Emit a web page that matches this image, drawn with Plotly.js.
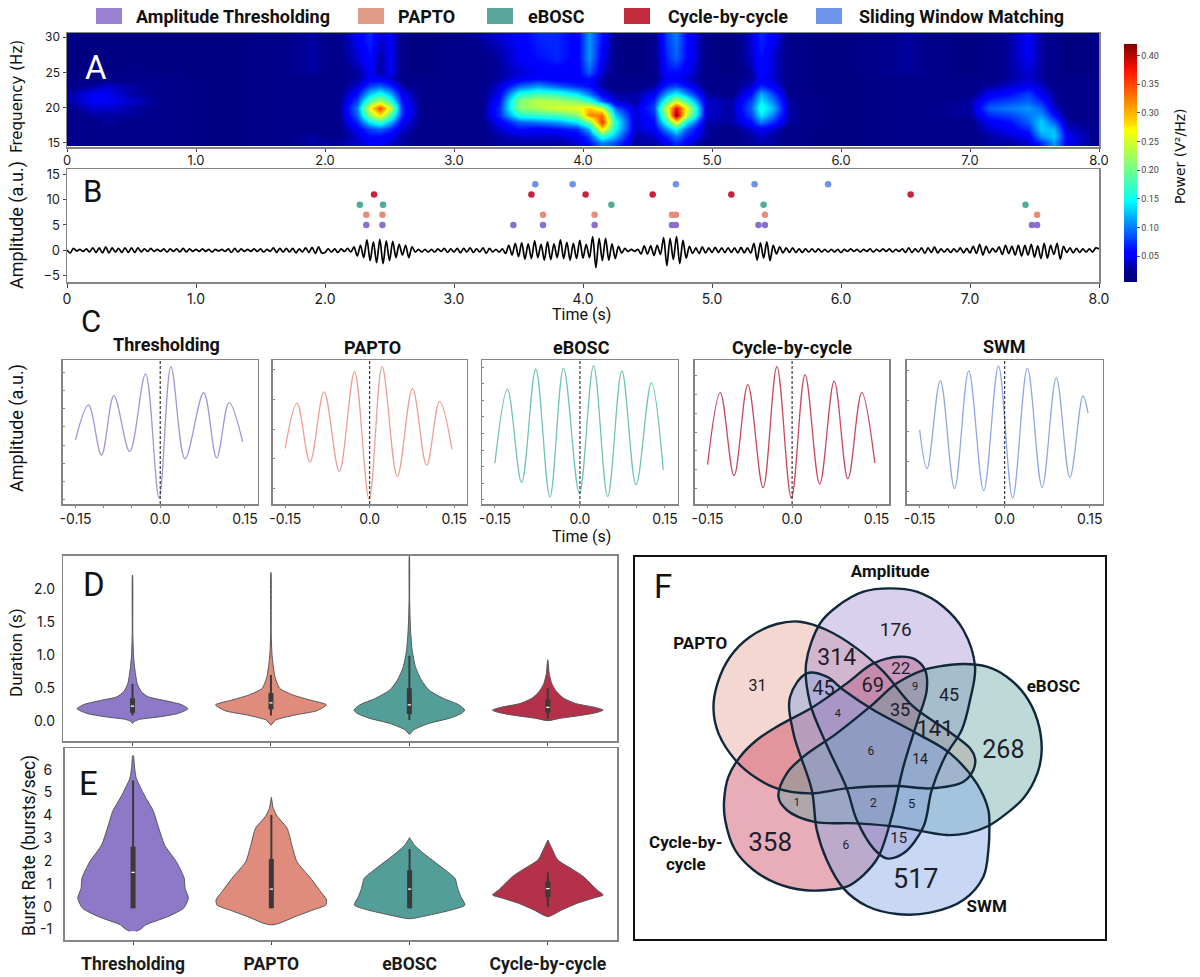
<!DOCTYPE html>
<html><head><meta charset="utf-8">
<script src="https://cdn.plot.ly/plotly-3.0.1.min.js"></script>
<style>html,body{margin:0;padding:0;background:#fff}#c{width:1200px;height:977px}</style>
</head><body><div id="c"></div>
<script>
/* ---------- data ---------- */
const methodNames = ['Amplitude Thresholding','PAPTO','eBOSC','Cycle-by-cycle','Sliding Window Matching'];
const legendColors = ['#9a82d0','#e09a88','#5aa69c','#c32c3e','#6f96e8'];
const dotColors = ['#8a6fd0','#e88b78','#4eab9f','#c8233c','#6d93e3'];
const waveColors = ['#a394d8','#ee9f93','#6fc4b6','#c9485f','#8ea9e4'];
const violinColors = ['#8e78c8','#e08c7c','#539e98','#b53149'];

/* A: spectrogram */
const specTimes = [0,.2,.3,.5,.8,1.2,1.6,1.9,2.1,2.25,2.35,2.43,2.5,2.6,2.75,3.0,3.2,3.35,3.5,3.65,3.8,3.95,4.05,4.15,4.25,4.4,4.55,4.65,4.72,4.8,4.95,5.15,5.3,5.38,5.47,5.6,6.0,6.5,7.0,7.15,7.3,7.45,7.55,7.65,7.75,8.0];
const specFreqs = [15,16,17,18,19,20,21,22,23,24,25,27,30];
const specPower = [
[.02,.02,.02,.02,.02,.01,.02,.03,.03,.04,.05,.05,.04,.03,.02,.02,.02,.03,.03,.03,.03,.04,.06,.10,.08,.03,.03,.05,.07,.05,.02,.02,.03,.03,.03,.02,.01,.02,.02,.03,.03,.04,.07,.11,.05,.02],
[.02,.02,.02,.02,.02,.01,.02,.03,.02,.04,.06,.06,.05,.03,.02,.02,.02,.03,.04,.04,.04,.05,.08,.17,.12,.03,.04,.07,.10,.07,.03,.02,.03,.04,.03,.02,.01,.02,.02,.03,.04,.05,.11,.13,.05,.02],
[.02,.02,.02,.02,.02,.01,.02,.02,.02,.05,.08,.09,.07,.04,.02,.02,.02,.04,.06,.05,.06,.07,.12,.28,.15,.04,.05,.11,.15,.09,.03,.02,.04,.05,.04,.02,.01,.02,.02,.04,.05,.07,.13,.12,.04,.02],
[.02,.02,.03,.02,.02,.01,.02,.02,.02,.07,.14,.17,.12,.05,.02,.02,.02,.05,.09,.10,.11,.14,.20,.36,.16,.04,.06,.17,.27,.15,.03,.03,.06,.10,.07,.03,.01,.02,.02,.05,.06,.09,.13,.09,.03,.02],
[.02,.03,.03,.03,.02,.01,.02,.02,.02,.09,.22,.28,.19,.07,.02,.02,.02,.07,.16,.17,.18,.21,.32,.33,.13,.04,.07,.23,.42,.25,.04,.03,.08,.14,.10,.03,.01,.02,.03,.07,.08,.10,.11,.06,.02,.02],
[.02,.04,.04,.03,.02,.01,.02,.02,.02,.10,.27,.35,.25,.07,.02,.02,.02,.07,.21,.23,.25,.26,.29,.24,.09,.04,.08,.26,.38,.27,.04,.03,.09,.16,.12,.03,.01,.02,.03,.09,.10,.11,.09,.04,.02,.02],
[.03,.05,.05,.04,.02,.01,.02,.02,.02,.08,.19,.23,.17,.06,.02,.02,.02,.06,.21,.24,.23,.21,.17,.09,.04,.03,.07,.18,.25,.18,.04,.03,.08,.14,.10,.03,.01,.02,.03,.07,.08,.09,.07,.03,.02,.02],
[.03,.05,.05,.03,.02,.01,.02,.02,.02,.06,.13,.16,.12,.05,.02,.02,.02,.05,.16,.18,.17,.14,.10,.05,.03,.03,.05,.12,.15,.11,.03,.02,.06,.12,.08,.02,.01,.02,.02,.05,.06,.08,.05,.03,.02,.02],
[.02,.03,.04,.03,.02,.01,.02,.02,.02,.04,.08,.09,.07,.03,.02,.02,.02,.04,.09,.11,.09,.07,.06,.03,.02,.02,.03,.07,.08,.06,.02,.02,.04,.07,.05,.02,.01,.02,.02,.03,.04,.05,.04,.02,.02,.02],
[.02,.02,.02,.02,.02,.01,.02,.02,.02,.03,.05,.05,.04,.02,.02,.02,.02,.03,.05,.06,.05,.05,.06,.03,.02,.02,.02,.05,.05,.04,.02,.02,.03,.05,.04,.02,.01,.02,.02,.02,.03,.04,.03,.02,.02,.02],
[.01,.01,.01,.02,.01,.01,.02,.03,.02,.03,.05,.03,.05,.02,.01,.02,.02,.03,.04,.05,.05,.05,.09,.04,.02,.01,.02,.06,.06,.05,.02,.01,.03,.06,.04,.02,.01,.03,.01,.02,.03,.04,.03,.02,.01,.01],
[.01,.01,.01,.01,.01,.01,.02,.03,.02,.04,.06,.03,.05,.02,.01,.02,.02,.03,.05,.06,.07,.05,.11,.05,.02,.01,.02,.07,.09,.06,.02,.01,.04,.06,.04,.02,.01,.03,.01,.02,.03,.05,.03,.02,.01,.01],
[.01,.01,.01,.01,.01,.01,.02,.03,.02,.05,.07,.04,.05,.02,.01,.02,.03,.04,.05,.07,.07,.05,.11,.06,.02,.01,.02,.08,.10,.06,.02,.01,.04,.07,.05,.02,.01,.03,.01,.02,.03,.05,.03,.02,.01,.01]];

/* B: raw signal, one value every 0.025 s */
const signalStep = 0.025;
const signalValues = [
.1,-.5,.4,-.1,.2,-.2,.3,-.3,.5,-.4,.5,-.5,.7,-.5,.5,-.3,.4,-.4,.5,-.4,.5,-.4,.5,-.3,.3,-.2,.4,-.2,.2,-.2,.3,-.3,.3,-.2,.3,-.3,.4,-.3,.3,-.2,
.2,-.2,.3,-.2,.2,-.3,.2,-.1,.2,-.2,.3,-.4,.4,-.3,.3,-.2,.2,-.2,.3,-.2,.3,-.3,.2,-.2,.5,-.4,.4,-.3,.4,-.3,.4,-.5,.3,-.3,.5,-.4,.6,-.6,.7,-.5,
-.4,.3,-.3,.3,-.4,.3,-.2,.4,-.3,.7,-1.1,1.0,-1.4,2.1,-2.0,1.7,-2.4,2.2,-2.6,1.9,-2.0,1.8,-1.4,1.2,-.9,1.0,-1.4,.7,-.3,.2,-.3,.2,-.3,.2,-.3,.3,-.2,.4,-.4,.3,
-.3,.4,-.5,.4,-.3,.5,-.4,.3,-.3,.5,-.6,.4,-.3,.2,-.3,.3,-.6,1.0,-.9,1.4,-1.2,1.5,-1.7,1.3,-1.6,1.9,-1.4,1.2,-1.9,1.7,-1.8,1.3,-1.4,2.1,-1.6,1.6,-1.9,1.4,-1.6,2.0,
-1.5,1.2,-1.4,2.7,-3.4,2.4,-2.0,2.4,-1.9,1.3,-1.6,.8,-.5,.4,-.2,.2,-.2,.2,-.7,.9,-.7,.9,-1.0,1.0,-.8,2.5,-3.0,2.4,-1.8,2.7,-2.6,2.0,-1.5,.8,-.6,.5,-.6,.7,-.5,.5,
-.4,.6,-.4,.5,-.4,.5,-.4,.5,-.5,.6,-.5,.5,-.5,1.4,-1.9,1.5,-1.5,1.7,-2.0,1.0,-.7,.7,-.5,.5,-.4,.5,-.4,.3,-.4,.3,-.3,.3,-.3,.3,-.3,.2,-.3,.2,-.3,.2,
-.4,.2,-.2,.3,-.2,.2,-.3,.2,-.2,.3,-.3,.2,-.2,.3,-.2,.3,-.3,.2,-.2,.3,-.4,.5,-.4,.3,-.3,.5,-.6,.5,-.4,.7,-.5,.3,-.3,.3,-.4,.3,-.3,.5,-.5,.4,
-.5,.8,-.6,1.2,-.9,.8,-.5,.4,-.3,.7,-.8,1.0,-.6,.8,-.9,1.0,-1.1,1.0,-.9,1.2,-1.3,.9,-1.6,1.4,-1.5,1.0,-.8,1.4,-1.7,.8,-.4,.5,-.5,.4,-.4,.3,-.3,.3,-.3,.5,.3];

const burstTimesAmp = [2.32,2.445,3.46,3.69,4.09,4.69,4.72,5.36,5.41,7.48,7.52];
const burstTimesPapto = [2.32,2.445,3.69,4.09,4.69,4.72,5.41,7.52];
const burstTimesEbosc = [2.27,2.45,4.22,5.40,7.43];
const burstTimesCycle = [2.38,3.6,4.02,4.54,5.15,6.54];
const burstTimesSwm = [3.63,3.92,4.72,5.33,5.90];
const burstRows = [5,7,9,11,13];

/* C: average waveforms */
const waveTitles = ['Thresholding','PAPTO','eBOSC','Cycle-by-cycle','SWM'];
const waveT1 = [-.15,-.127,-.104,-.082,-.054,-.026,-.002,.019,.044,.077,.100,.122,.146];
const waveY1 = [.27,2.20,-.55,2.71,-.36,3.91,-2.91,4.31,-.76,2.87,-.71,2.33,.18];
const waveT2 = [-.15,-.129,-.106,-.081,-.054,-.027,-.001,.022,.049,.076,.101,.124,.146];
const waveY2 = [-.65,.88,-1.11,1.26,-1.42,1.93,-2.36,2.11,-1.60,1.37,-1.22,.94,-.67];
const waveT3 = [-.15,-.128,-.103,-.078,-.053,-.029,-.001,.024,.049,.074,.099,.126,.147];
const waveY3 = [-1.8,2.66,-2.96,3.88,-3.84,3.94,-3.6,4.08,-3.8,3.78,-3.1,3.06,-2.2];
const waveT4 = [-.15,-.1275,-.103,-.0786,-.0515,-.027,-.0013,.023,.049,.0747,.099,.1236,.1468];
const waveY4 = [-1.74,2.11,-2.33,2.54,-2.97,3.5,-3.52,3.06,-2.77,2.72,-2.49,2.11,-1.65];
const waveT5 = [-.15,-.137,-.1135,-.0885,-.0635,-.037,-.011,.014,.04,.066,.091,.115,.138,.147];
const waveY5 = [.04,-1.24,1.67,-1.90,1.99,-1.97,2.15,-2.21,2.07,-1.86,1.76,-1.53,1.16,.59];
const waveRanges = [[-3.24,4.67],[-2.525,2.335],[-4.26,4.44],[-3.84,3.85],[-2.41,2.35]];
const waveYTicks = [[-3,-2,-1,0,1,2,3,4],[-2,-1,0,1,2],[-4,-3,-2,-1,0,1,2,3,4],[-3,-2,-1,0,1,2,3],[-2,-1,0,1,2]];

/* D: duration violins (value, half width) */
const durY1 = [-.03,0,.03,.07,.12,.19,.25,.31,.37,.45,.57,.83,1.0,1.33,2.21];
const durW1 = [0,.014,.051,.2,.33,.4,.357,.243,.114,.063,.034,.014,.007,.002,.0005];
const durY2 = [-.055,.02,.095,.16,.25,.32,.4,.5,.675,.88,1.0,1.33,2.25];
const durW2 = [0,.034,.171,.33,.4,.286,.157,.063,.029,.014,.008,.002,.0005];
const durY3 = [-.195,-.13,-.03,.045,.12,.17,.25,.35,.47,.625,.83,1.08,1.33,1.58,1.83,2.5];
const durW3 = [0,.029,.143,.286,.377,.4,.357,.243,.143,.086,.043,.02,.01,.005,.002,.0005];
const durY4 = [.01,.045,.095,.135,.17,.21,.27,.35,.45,.57,.725,.93];
const durW4 = [0,.086,.257,.357,.4,.343,.2,.114,.063,.029,.01,.0005];
const durBoxLow = [.13,.18,.11,.135], durBoxHigh = [.35,.43,.50,.33], durMedian = [.23,.28,.25,.21];
const durWhiskLow = [.09,.09,.02,.045], durWhiskHigh = [.57,.70,.99,.50];

/* E: burst-rate violins */
const rateY1 = [-1.08,-.98,-.80,-.44,-.07,.37,.80,1.24,1.97,2.70,3.73,4.17,4.90,5.63,6.21,6.61];
const rateW1 = [.023,.057,.091,.25,.365,.4,.376,.37,.313,.228,.171,.148,.08,.023,.009,.003];
const rateY2 = [-.80,-.73,-.44,-.15,.07,.29,.66,1.24,1.97,2.70,3.44,3.95,4.31,4.80];
const rateW2 = [0,.057,.171,.3,.393,.4,.356,.285,.185,.148,.114,.043,.014,0];
const rateY3 = [-.53,-.37,-.15,.07,.44,.80,1.24,1.61,2.27,2.70,3.03];
const rateW3 = [0,.142,.3,.4,.37,.348,.328,.256,.114,.034,0];
const rateY4 = [-.44,-.15,.15,.37,.51,.73,.95,1.32,1.61,2.05,2.56,2.92];
const rateW4 = [0,.1,.214,.328,.4,.356,.319,.256,.185,.071,.028,0];
const rateBoxLow = [-.07,-.07,-.07,.41], rateBoxHigh = [2.63,2.09,1.59,1.10], rateMedian = [1.5,.77,.77,.79];
const rateWhiskLow = [-.07,-.07,-.07,-.03], rateWhiskHigh = [5.53,4.02,2.53,1.5];
const categoryNames = ['Thresholding','PAPTO','eBOSC','Cycle-by-cycle'];

/* F: Venn outlines in diagram units */
const vennAmpX = [780,860,940,1000,1035,1020,995,945,905,880,820,770,730,680,650,590,540,528,570,620,700];
const vennAmpY = [115,125,170,240,350,450,540,620,720,830,910,925,895,810,715,585,460,340,220,170,125];
const vennPapX = [250,262,300,360,440,510,590,680,760,850,950,1020,1035,1030,1000,900,800,650,540,440,380,320,265];
const vennPapY = [475,400,320,260,222,215,240,295,365,470,540,595,625,660,695,715,708,715,730,715,685,635,550];
const vennEboX = [445,470,520,620,720,800,880,940,1000,1070,1130,1185,1222,1235,1222,1180,1130,1075,1010,950,800,680,550,470];
const vennEboY = [740,670,620,550,470,400,360,347,342,350,380,435,510,600,670,745,790,828,850,855,830,820,815,780];
const vennCycX = [810,855,885,890,860,820,785,745,700,650,590,520,440,370,315,285,282,295,330,380,440,550,650,730];
const vennCycY = [320,328,360,420,520,650,800,920,975,1010,1020,1020,1000,960,900,810,750,680,620,570,530,470,400,340];
const vennSwmX = [530,480,490,545,560,590,640,710,800,900,1000,1060,1075,1078,1075,1040,960,860,730,640,590];
const vennSwmY = [370,440,550,720,840,930,1015,1068,1092,1088,1050,980,900,830,780,700,610,550,480,420,380];
const vennOrder = [1,3,0,2,4];
const vennFills = ['rgba(142,120,200,.35)','rgba(224,140,124,.35)','rgba(83,158,152,.38)','rgba(199,50,79,.4)','rgba(133,166,228,.45)'];
const vennCounts = ['176','31','314','45','69','22','9','45','35','4','141','268','6','14','1','2','5','358','6','15','517'];
const vennCountX = [797,382,620,580,728,812,855,957,810,623,915,1120,722,870,500,730,845,420,647,806,857];
const vennCountY = [245,412,327,420,412,360,412,440,483,492,540,605,607,632,760,762,765,885,887,868,993];
const vennCountSize = [19,16,23,20,20,17,11,18,18,11,22,25,12,14,11,12,13,26,12,15,27];
const vennSetNames = ['Amplitude','PAPTO','eBOSC','Cycle-by-<br>cycle','SWM'];
const vennSetX = [780,210,1270,167,1070];
const vennSetY = [67,285,413,915,1072];

/* ---------- helpers ---------- */
const W = 1200, H = 977;
const TXT = 'Roboto, sans-serif';
const TICK = 'Inter, sans-serif';
const fx = p => p / W, fy = p => 1 - p / H;
const domX = (l, r) => [fx(l), fx(r)];
const domY = (t, b) => [fy(b), fy(t)];
const FRAME = {showline:true, mirror:true, linecolor:'#858585', linewidth:1.5, showgrid:false, zeroline:false, automargin:false};

const traces = [], shapes = [], annotations = [];
const layout = {width:W, height:H, margin:{l:0,r:0,t:0,b:0,autoexpand:false}, paper_bgcolor:'#fff', plot_bgcolor:'#fff',
  showlegend:false, hovermode:false, font:{family:TXT,color:'#1a1a1a'}, shapes, annotations};
function ann(text, x, y, size, o) {
  annotations.push(Object.assign({text, x:fx(x), y:fy(y), xref:'paper', yref:'paper', showarrow:false,
    xanchor:'center', yanchor:'middle', font:{family:TXT, size, color:'#111'}}, o || {}));
}
function annFont(family, size, weight, color) { return {family, size, weight: weight || 400, color: color || '#111'}; }

/* legend */
const legendSq = [96,358,487,624,816];
const legendTxt = [134,396,526,666,857];
methodNames.forEach((n, i) => {
  shapes.push({type:'rect', xref:'paper', yref:'paper', x0:fx(legendSq[i]), x1:fx(legendSq[i]+26), y0:fy(24), y1:fy(8),
    fillcolor:legendColors[i], line:{width:0}});
  ann(n, legendTxt[i], 16, 18, {xanchor:'left', font:annFont(TXT,18,700)});
});

/* A */
traces.push({type:'heatmap', x:specTimes, y:specFreqs, z:specPower, xaxis:'x', yaxis:'y', zsmooth:'best', zmin:.005, zmax:.42,
  colorscale:[[0,'#00007f'],[.05,'#00008f'],[.11,'#0000ff'],[.125,'#0000ff'],[.34,'#00ffff'],[.375,'#1fffd8'],[.64,'#ffff00'],[.66,'#ffe000'],[.89,'#ff1000'],[1,'#7f0000']],
  colorbar:{x:fx(1124), xanchor:'left', y:fy(282), yanchor:'bottom', xpad:0, ypad:0, len:238, lenmode:'pixels', thickness:13, thicknessmode:'pixels',
    outlinewidth:0, tickvals:[.05,.1,.15,.2,.25,.3,.35,.4], ticktext:['0.05','0.10','0.15','0.20','0.25','0.30','0.35','0.40'],
    ticks:'outside', ticklen:3, tickcolor:'#555', tickfont:{size:9,color:'#444',family:TXT}}});
layout.xaxis = Object.assign({}, FRAME, {domain:domX(67,1099), range:[0,8], anchor:'y', tickvals:[0,1,2,3,4,5,6,7,8],
  ticktext:['0','1.0','2.0','3.0','4.0','5.0','6.0','7.0','8.0'], ticks:'outside', ticklen:3, ticklabelstandoff:-2, tickfont:{size:13,family:TICK}});
layout.yaxis = Object.assign({}, FRAME, {domain:domY(33,147), range:[14.4,30.6], anchor:'x', tickvals:[15,20,25,30], ticks:'outside', ticklen:3, tickfont:{size:12,family:TICK}});
ann('A', 96, 68, 33, {font:annFont(TXT,33,400,'#fff')});
ann('Frequency (Hz)', 17, 97, 15, {textangle:-90, font:annFont('DejaVu Sans',15)});
ann('Power (V²/Hz)', 1180, 157, 14, {textangle:-90, font:annFont('DejaVu Sans',14)});

/* B */
traces.push({type:'scatter', mode:'lines', y:signalValues, x0:0, dx:signalStep, xaxis:'x2', yaxis:'y2',
  line:{color:'#000', width:1.7, shape:'spline', smoothing:.9}});
[burstTimesAmp,burstTimesPapto,burstTimesEbosc,burstTimesCycle,burstTimesSwm].forEach((ts, i) => {
  traces.push({type:'scatter', mode:'markers', x:ts, y:ts.map(() => burstRows[i]), xaxis:'x2', yaxis:'y2',
    marker:{size:6.5, color:dotColors[i], line:{width:0}}});
});
layout.xaxis2 = Object.assign({}, FRAME, {domain:domX(67,1099), range:[0,8], anchor:'y2', tickvals:[0,1,2,3,4,5,6,7,8],
  ticktext:['0','1.0','2.0','3.0','4.0','5.0','6.0','7.0','8.0'], ticks:'outside', ticklen:4, tickfont:{size:14,family:TICK}});
layout.yaxis2 = Object.assign({}, FRAME, {domain:domY(169,282), range:[-6.2,16], anchor:'x2', tickvals:[-5,0,5,10,15], ticks:'outside', ticklen:3, tickfont:{size:13,family:TICK}});
ann('B', 92, 191, 31, {font:annFont(TXT,31,400)});
ann('Amplitude (a.u.)', 17, 225, 18, {textangle:-90});
ann('Time (s)', 581, 314, 16);
ann('C', 91, 321, 31, {font:annFont(TXT,31,400)});

/* C */
const waveBoxes = [[62.8,257.6],[272.5,466.9],[482.2,677.7],[694.9,889.3],[906.9,1102.5]];
const waveX = [waveT1,waveT2,waveT3,waveT4,waveT5], waveY = [waveY1,waveY2,waveY3,waveY4,waveY5];
const waveTitleX = [166,372,581,792,1004], waveTitleY = [344,347,347,347,346];
waveBoxes.forEach((b, i) => {
  const n = i + 3;
  traces.push({type:'scatter', mode:'lines', x:waveX[i], y:waveY[i], xaxis:'x'+n, yaxis:'y'+n,
    line:{color:waveColors[i], width:1.3, shape:'spline', smoothing:1}});
  layout['xaxis'+n] = Object.assign({}, FRAME, {domain:domX(b[0],b[1]), range:[-.1725,.1725], anchor:'y'+n,
    tickvals:[-.15,-.1,-.05,0,.05,.1,.15], ticktext:['-0.15','','','0.0','','','0.15'], ticks:'outside', ticklen:2, tickcolor:'#888', tickfont:{size:14,family:TICK}});
  layout['yaxis'+n] = Object.assign({}, FRAME, {domain:domY(360,504), range:waveRanges[i], anchor:'x'+n,
    tickvals:waveYTicks[i], showticklabels:false, ticks:'inside', ticklen:2, tickcolor:'#888'});
  shapes.push({type:'line', xref:'x'+n, yref:'y'+n+' domain', x0:0, x1:0, y0:0, y1:1, line:{color:'#111', width:1, dash:'3px,2px'}});
  ann(waveTitles[i], waveTitleX[i], waveTitleY[i], 18, {font:annFont(TXT,18,700)});
});
ann('Amplitude (a.u.)', 17, 428, 18, {textangle:-90});
ann('Time (s)', 581, 536, 16);

/* D, E */
function violin(center, ys, ws, color, xa, ya) {
  const xs = ys.map((y, i) => center + ws[i]).concat(ys.slice().reverse().map((y, i) => center - ws[ws.length-1-i]));
  const yy = ys.concat(ys.slice().reverse());
  traces.push({type:'scatter', mode:'lines', x:xs, y:yy, xaxis:xa, yaxis:ya, fill:'toself', fillcolor:color,
    line:{color:'#555', width:1, shape:'spline', smoothing:.6}});
}
function boxMark(center, wl, wh, bl, bh, med, xa, ya) {
  traces.push({type:'scatter', mode:'lines', x:[center,center], y:[wl,wh], xaxis:xa, yaxis:ya, line:{color:'#3a3a3a', width:2}});
  traces.push({type:'scatter', mode:'lines', x:[center,center], y:[bl,bh], xaxis:xa, yaxis:ya, line:{color:'#3a3a3a', width:5}});
  traces.push({type:'scatter', mode:'lines', x:[center-.012,center+.012], y:[med,med], xaxis:xa, yaxis:ya, line:{color:'#fff', width:1.3}});
}
const durYs = [durY1,durY2,durY3,durY4], durWs = [durW1,durW2,durW3,durW4];
const rateYs = [rateY1,rateY2,rateY3,rateY4], rateWs = [rateW1,rateW2,rateW3,rateW4];
const catIdx = [0,1,2,3];
catIdx.forEach(i => {
  violin(i, durYs[i], durWs[i], violinColors[i], 'x8', 'y8');
  boxMark(i, durWhiskLow[i], durWhiskHigh[i], durBoxLow[i], durBoxHigh[i], durMedian[i], 'x8', 'y8');
  violin(i, rateYs[i], rateWs[i], violinColors[i], 'x9', 'y9');
  boxMark(i, rateWhiskLow[i], rateWhiskHigh[i], rateBoxLow[i], rateBoxHigh[i], rateMedian[i], 'x9', 'y9');
});
layout.xaxis8 = Object.assign({}, FRAME, {domain:domX(63.3,617), range:[-.5,3.5], anchor:'y8', tickvals:catIdx, showticklabels:false, ticks:'outside', ticklen:3});
layout.yaxis8 = Object.assign({}, FRAME, {domain:domY(555.7,741), range:[-.297,2.504], anchor:'x8', tickvals:[0,.5,1,1.5,2], tickformat:'.1f', ticks:'', ticklabelstandoff:4, tickfont:{size:14,family:TICK}});
layout.xaxis9 = Object.assign({}, FRAME, {domain:domX(64.5,617), range:[-.496,3.5], anchor:'y9', tickvals:catIdx, ticktext:categoryNames, ticks:'outside', ticklen:3,
  tickangle:0, tickfont:{size:17.5, weight:700}, ticklabelstandoff:4});
layout.yaxis9 = Object.assign({}, FRAME, {domain:domY(748.3,940.3), range:[-1.476,6.94], anchor:'x9', tickvals:[-1,0,1,2,3,4,5,6], ticktext:['-1','0','1','2','3','4','5','6'], ticks:'', ticklabelstandoff:8, tickfont:{size:14,family:TICK}});
ann('D', 94, 584, 33, {font:annFont(TXT,33,400)});
ann('E', 88, 783, 33, {font:annFont(TXT,33,400)});
ann('Duration (s)', 16, 653, 17, {textangle:-90});
ann('Burst Rate (bursts/sec)', 29, 846, 17.5, {textangle:-90});

/* F */
const vennX = [vennAmpX,vennPapX,vennEboX,vennCycX,vennSwmX], vennY = [vennAmpY,vennPapY,vennEboY,vennCycY,vennSwmY];
const closed = a => a.concat([a[0]]);
vennOrder.forEach(i => traces.push({type:'scatter', mode:'lines', x:closed(vennX[i]), y:closed(vennY[i]), xaxis:'x10', yaxis:'y10',
  fill:'toself', fillcolor:vennFills[i], line:{width:0, shape:'spline', smoothing:1}}));
vennOrder.forEach(i => traces.push({type:'scatter', mode:'lines', x:closed(vennX[i]), y:closed(vennY[i]), xaxis:'x10', yaxis:'y10',
  line:{color:'#11283a', width:2.4, shape:'spline', smoothing:1}}));
traces.push({type:'scatter', mode:'text', x:vennCountX, y:vennCountY, text:vennCounts, xaxis:'x10', yaxis:'y10',
  textfont:{size:vennCountSize, color:'#1d1d2b', family:TXT}, textposition:'middle center'});
traces.push({type:'scatter', mode:'text', x:vennSetX, y:vennSetY, text:vennSetNames, xaxis:'x10', yaxis:'y10',
  textfont:{size:17, color:'#111', family:TXT, weight:700}, textposition:'middle center'});
layout.xaxis10 = {domain:domX(634.5,1105), range:[13,1425], anchor:'y10', showline:true, mirror:true, linecolor:'#111', linewidth:2,
  showgrid:false, zeroline:false, showticklabels:false, ticks:''};
layout.yaxis10 = {domain:domY(556.7,939), range:[1167,20], anchor:'x10', showline:true, mirror:true, linecolor:'#111', linewidth:2,
  showgrid:false, zeroline:false, showticklabels:false, ticks:''};
ann('F', 663, 586, 33, {font:annFont(TXT,33,400)});

Plotly.newPlot('c', traces, layout, {displayModeBar:false, staticPlot:true});
</script></body></html>
